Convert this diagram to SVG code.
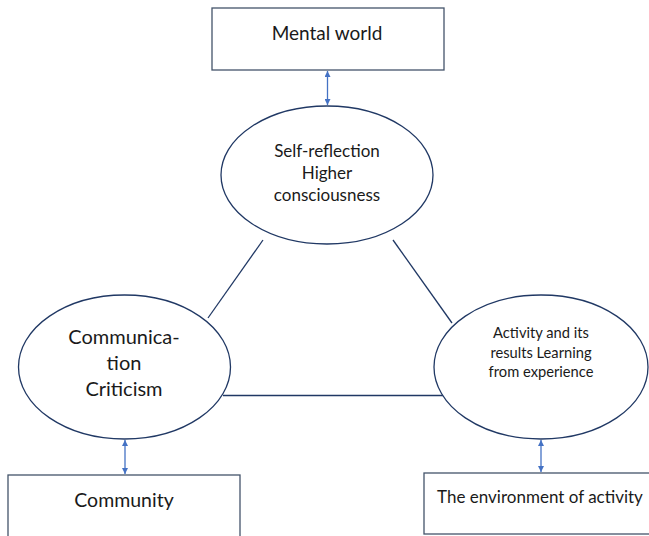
<svg xmlns="http://www.w3.org/2000/svg" width="649" height="536" viewBox="0 0 649 536">
<style>
.box{fill:#fff;stroke:#44546A;stroke-width:1.3}
.ell{fill:#fff;stroke:#203864;stroke-width:1.3}
.ln{stroke:#203864;stroke-width:1.3;fill:none}
.arr{stroke:#4472C4;stroke-width:1.3;fill:none;marker-start:url(#ah);marker-end:url(#ah)}
text{font-family:Lato,"Liberation Sans",sans-serif;fill:#1a1a1a;text-anchor:middle}
</style>
<defs>
<marker id="ah" viewBox="0 0 10 10" refX="10" refY="5" markerWidth="6" markerHeight="6" orient="auto-start-reverse" markerUnits="userSpaceOnUse">
<path d="M0,0 L10,5 L0,10 z" fill="#4472C4"/>
</marker>
</defs>
<g id="connectors">
<line class="ln" x1="208" y1="318" x2="263" y2="240"/>
<line class="ln" x1="393" y1="240" x2="452" y2="323"/>
<line class="ln" x1="223" y1="395.5" x2="443" y2="395.5"/>
<line class="arr" x1="327.5" y1="71" x2="327.5" y2="105"/>
<line class="arr" x1="125" y1="440" x2="125" y2="474"/>
<line class="arr" x1="541" y1="440" x2="541" y2="472"/>
</g>
<g id="mental-world">
<rect class="box" x="212" y="8" width="232" height="62"/>
<text x="327" y="40" font-size="19">Mental world</text>
</g>
<g id="self-reflection">
<ellipse class="ell" cx="327" cy="175" rx="106" ry="69"/>
<text x="327" y="157" font-size="17">Self-reflection</text>
<text x="327" y="179" font-size="17">Higher</text>
<text x="327" y="201" font-size="17">consciousness</text>
</g>
<g id="communication">
<ellipse class="ell" cx="124.5" cy="367" rx="106" ry="72"/>
<text x="124" y="344" font-size="20">Communica-</text>
<text x="124" y="370" font-size="20">tion</text>
<text x="124" y="396" font-size="20">Criticism</text>
</g>
<g id="activity">
<ellipse class="ell" cx="541" cy="367" rx="107" ry="72"/>
<text x="541" y="338" font-size="14.7">Activity and its</text>
<text x="541" y="358" font-size="14.7">results Learning</text>
<text x="541" y="377" font-size="14.7">from experience</text>
</g>
<g id="community">
<rect class="box" x="8" y="475" width="232" height="70"/>
<text x="124" y="507" font-size="19.5">Community</text>
</g>
<g id="environment">
<rect class="box" x="424" y="473" width="232" height="61"/>
<text x="540" y="503" font-size="17">The environment of activity</text>
</g>
</svg>
